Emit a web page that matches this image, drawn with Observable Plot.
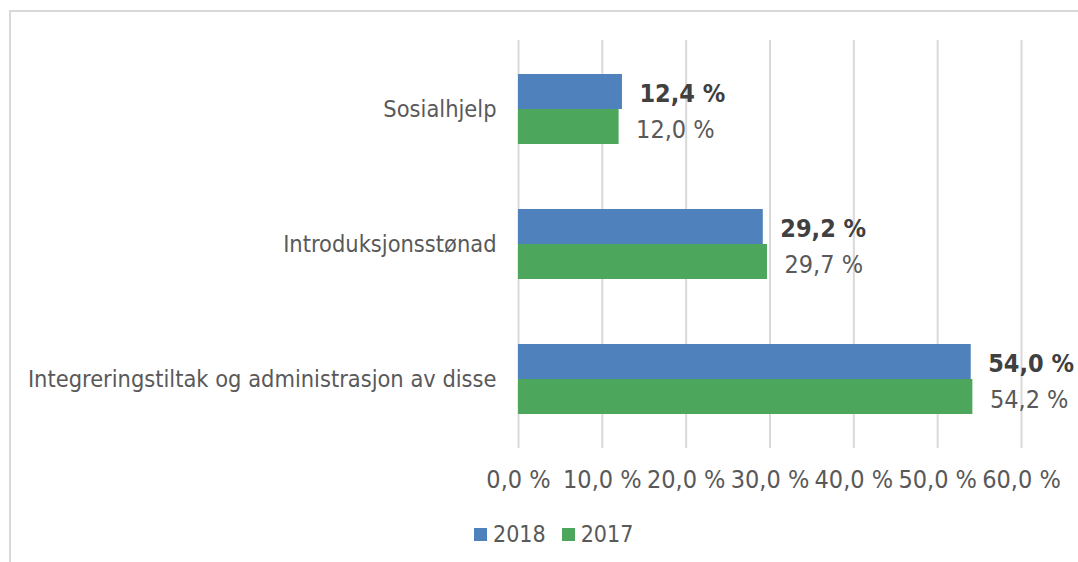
<!DOCTYPE html>
<html>
<head>
<meta charset="utf-8">
<script src="https://cdn.jsdelivr.net/npm/d3@7"></script>
<script src="https://cdn.jsdelivr.net/npm/@observablehq/plot@0.6"></script>
<style>
  html, body { margin: 0; padding: 0; background: #fff; }
  #wrap { position: relative; width: 1078px; height: 562px; overflow: hidden; font-family: "DejaVu Sans Condensed", "DejaVu Sans", sans-serif; font-stretch: condensed; }
  #border { position: absolute; left: 9px; top: 10px; width: 1200px; height: 600px; border-top: 2px solid #d9d9d9; border-left: 2px solid #d9d9d9; }
  #chart { position: absolute; left: 0; top: 0; }
  #legend { position: absolute; left: 474px; top: 519px; height: 30px; display: flex; align-items: center; font-size: 23px; color: #595959; }
  .sw { display: inline-block; width: 13px; height: 13px; margin-right: 6px; }
  .item { display: flex; align-items: center; margin-right: 16px; }
</style>
</head>
<body>
<div id="wrap">
  <div id="border"></div>
  <div id="chart"></div>
  <div id="legend"></div>
</div>
<script>
const categories = ["Sosialhjelp", "Introduksjonsstønad", "Integreringstiltak og administrasjon av disse"];
const values2018 = [12.4, 29.2, 54.0];
const values2017 = [12.0, 29.7, 54.2];
const years = ["2018", "2017"];
const colors = ["#4F81BD", "#4CA75C"];
const xTicks = [0, 10, 20, 30, 40, 50, 60];

const fmt = v => v.toFixed(1).replace(".", ",") + " %";
const d2018 = categories.map((c, i) => ({category: c, value: values2018[i]}));
const d2017 = categories.map((c, i) => ({category: c, value: values2017[i]}));

const plot = Plot.plot({
  width: 1078,
  height: 500,
  marginLeft: 518,
  marginRight: 57,
  marginTop: 40,
  marginBottom: 52,
  style: {fontFamily: "'DejaVu Sans Condensed', 'DejaVu Sans', sans-serif", fontStretch: "condensed", fontSize: "23.4px", color: "#595959", background: "transparent"},
  x: {domain: [0, 60], ticks: xTicks, tickFormat: fmt, tickSize: 0, tickPadding: 22, label: null},
  y: {domain: categories, paddingInner: 0.485, paddingOuter: 0.2426, tickSize: 0, tickPadding: 22, label: null},
  marks: [
    Plot.ruleX(xTicks, {stroke: "#d9d9d9", strokeWidth: 2}),
    Plot.barX(d2018, {x: "value", y: "category", fill: colors[0], insetBottom: 35}),
    Plot.barX(d2017, {x: "value", y: "category", fill: colors[1], insetTop: 35}),
    Plot.text(d2018, {x: "value", y: "category", text: d => fmt(d.value), textAnchor: "start", dx: 17, dy: -16, fontWeight: "bold", fill: "#404040", fontSize: 25}),
    Plot.text(d2017, {x: "value", y: "category", text: d => fmt(d.value), textAnchor: "start", dx: 17, dy: 20, fill: "#595959", fontSize: 25})
  ]
});
plot.querySelectorAll("g[aria-label='x-axis tick label']").forEach(el => el.setAttribute("font-size", "25"));
document.getElementById("chart").appendChild(plot);

const legend = document.getElementById("legend");
years.forEach((y, i) => {
  const item = document.createElement("span");
  item.className = "item";
  item.innerHTML = `<span class="sw" style="background:${colors[i]}"></span>${y}`;
  legend.appendChild(item);
});
</script>
</body>
</html>
